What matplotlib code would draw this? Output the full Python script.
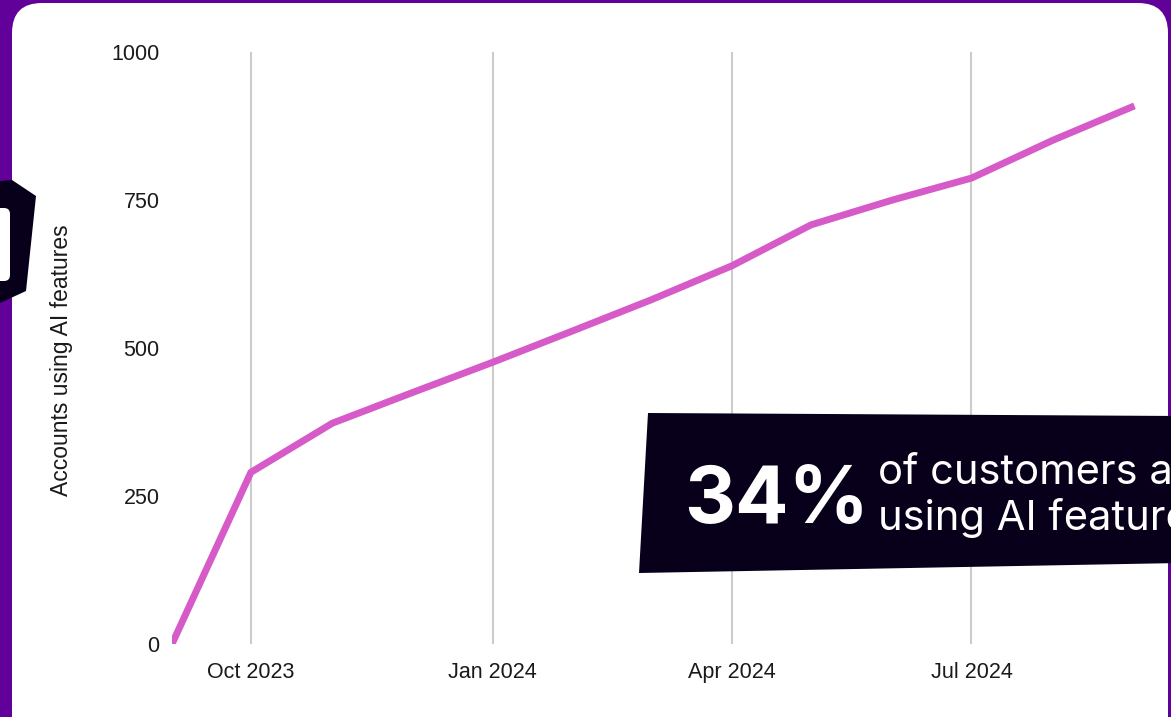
import matplotlib
matplotlib.use("Agg")
import matplotlib.dates as mdates
import matplotlib.pyplot as plt
import pandas as pd
from matplotlib.patches import FancyBboxPatch, Polygon

W, H = 1171, 717

months = pd.to_datetime([
    "2023-09-01", "2023-10-01", "2023-11-01", "2023-12-01", "2024-01-01",
    "2024-02-01", "2024-03-01", "2024-04-01", "2024-05-01", "2024-06-01",
    "2024-07-01", "2024-08-01", "2024-09-01",
])
accounts = [0, 290, 373, 424, 476, 530, 581, 639, 708, 750, 787, 851, 909]

y_ticks = [0, 250, 500, 750, 1000]
y_label = "Accounts using AI features"
big_stat = "34%"
stat_lines = ["of customers are", "using AI features"]

PURPLE = "#62009a"
LINE = "#d75ac9"
NAVY = "#08001a"

fig = plt.figure(figsize=(W / 100, H / 100), dpi=100, facecolor=PURPLE)

# pixel-space background layer: white card
bg = fig.add_axes([0, 0, 1, 1], zorder=0)
bg.set_xlim(0, W)
bg.set_ylim(H, 0)
bg.axis("off")
bg.add_patch(FancyBboxPatch((12, 3), 1156, 760, boxstyle="round,pad=0,rounding_size=30",
                            facecolor="white", edgecolor="none"))

# chart
ax = fig.add_axes([172 / W, (H - 644) / H, (1145 - 172) / W, (644 - 52) / H], zorder=1)
ax.patch.set_alpha(0)
ax.plot(months, accounts, color=LINE, linewidth=5, solid_joinstyle="round", solid_capstyle="butt")
ax.set_xlim(pd.Timestamp("2023-09-01"), pd.Timestamp("2024-09-05"))
ax.set_ylim(0, 1000)
ax.set_yticks(y_ticks)
ax.xaxis.set_major_locator(mdates.MonthLocator(bymonth=[1, 4, 7, 10]))
ax.xaxis.set_major_formatter(mdates.DateFormatter("%b %Y"))
ax.grid(axis="x", color="#cccccc", linewidth=1.5)
ax.set_axisbelow(True)
for s in ax.spines.values():
    s.set_visible(False)
ax.tick_params(axis="both", length=0, labelsize=15.5, labelcolor="#1a1a1a")
ax.tick_params(axis="y", pad=9)
ax.tick_params(axis="x", pad=13)
for lab in ax.get_xticklabels() + ax.get_yticklabels():
    lab.set_fontfamily("Liberation Sans")
ax.set_ylabel(y_label, fontsize=16.5, family="Liberation Sans", color="#1a1a1a", va="center")
ax.yaxis.set_label_coords(62, 360, transform=bg.transData)

# overlay: callout box and logo fragment
ov = fig.add_axes([0, 0, 1, 1], zorder=2)
ov.set_xlim(0, W)
ov.set_ylim(H, 0)
ov.axis("off")
ov.patch.set_alpha(0)
ov.add_patch(Polygon([(648, 413), (1180, 416), (1180, 563), (639, 573)], closed=True,
                     facecolor=NAVY, edgecolor="none"))
ov.text(684, 523, big_stat, color="white", fontsize=57, fontweight="bold", family="Inter",
        ha="left", va="baseline")
ov.text(878, 484, stat_lines[0], color="white", fontsize=30, family="Inter", ha="left", va="baseline")
ov.text(878, 530, stat_lines[1], color="white", fontsize=30, family="Inter", ha="left", va="baseline")

ov.add_patch(Polygon([(0, 181), (12, 180), (36, 196), (26, 291), (0, 303)], closed=True,
                     facecolor=NAVY, edgecolor="none"))
ov.add_patch(FancyBboxPatch((-20, 208), 30, 73, boxstyle="round,pad=0,rounding_size=6",
                            facecolor="white", edgecolor="none"))

fig.savefig("out.png", dpi=100, facecolor=PURPLE)
